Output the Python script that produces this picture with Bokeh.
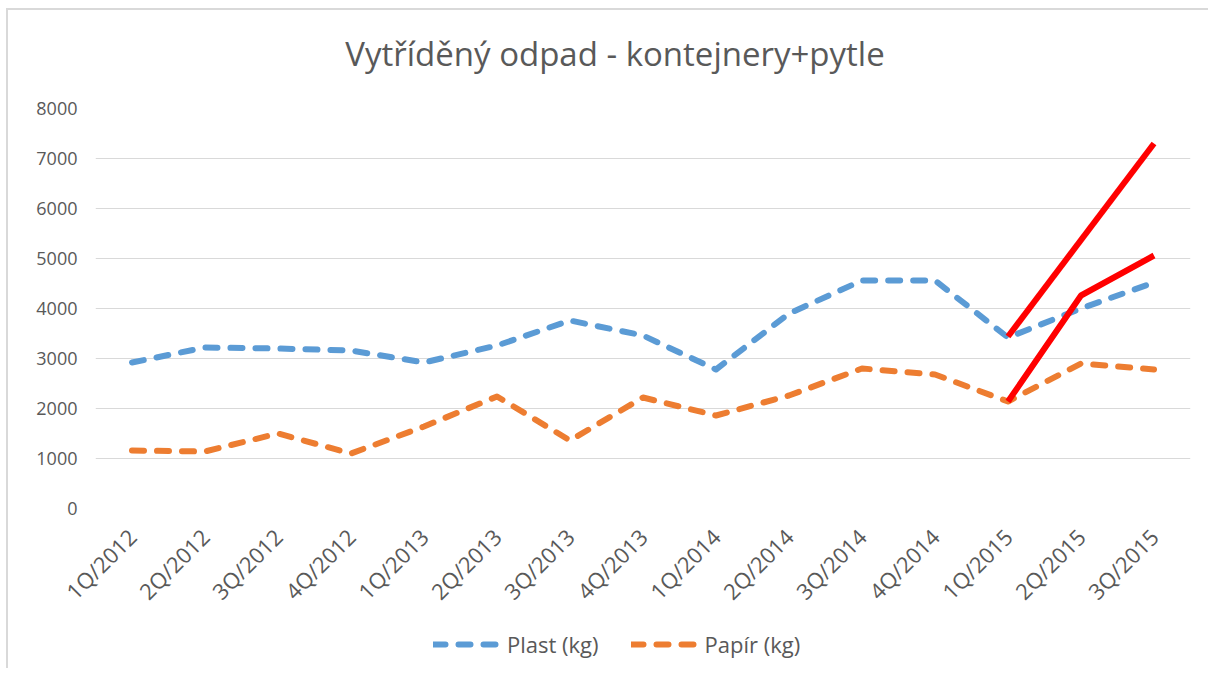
import numpy as np
from bokeh.plotting import figure
from bokeh.layouts import column
from bokeh.models import Range1d, FixedTicker, Legend, LegendItem, Label
from bokeh.embed import file_html
from bokeh.resources import INLINE

quarters = ["1Q/2012", "2Q/2012", "3Q/2012", "4Q/2012", "1Q/2013", "2Q/2013", "3Q/2013",
            "4Q/2013", "1Q/2014", "2Q/2014", "3Q/2014", "4Q/2014", "1Q/2015", "2Q/2015", "3Q/2015"]
plast = [2920, 3220, 3200, 3160, 2920, 3260, 3760, 3460, 2780, 3900, 4560, 4560, 3420, 4000, 4520]
papir = [1160, 1140, 1500, 1100, 1640, 2240, 1360, 2220, 1860, 2260, 2800, 2680, 2140, 2900, 2780]
# hand-drawn red overlay lines
red1_q = ["1Q/2015", "3Q/2015"]
red1_v = [3440, 7300]
red2_q = ["1Q/2015", "2Q/2015", "3Q/2015"]
red2_v = [2140, 4260, 5060]
series_names = ["Plast (kg)", "Papír (kg)"]
title_text = "Vytříděný odpad - kontejnery+pytle"

TEXT = "#595959"
FONT = "Open Sans"
BLUE, ORANGE = "#5B9BD5", "#ED7D31"
DASH = dict(line_width=6, line_dash="12 13", line_cap="round", line_join="round")
W = 1200


def strip(height):
    f = figure(width=W, height=height, output_backend="svg", toolbar_location=None,
               x_range=Range1d(0, 1), y_range=Range1d(0, 1), x_axis_type=None, y_axis_type=None,
               min_border_left=0, min_border_right=0, min_border_top=0, min_border_bottom=0)
    f.outline_line_color = None
    f.grid.visible = False
    return f


# title strip
pt = strip(86)
pt.add_layout(Label(x=0.5, y=0.5, x_offset=-28, text=title_text, text_align="center",
                    text_baseline="middle", text_font=FONT, text_font_size="33px",
                    text_color=TEXT))

# main chart
p = figure(width=W, height=522, output_backend="svg", toolbar_location=None, title=None,
           x_range=Range1d(-0.5, len(quarters) - 0.5), y_range=Range1d(0, 8000),
           min_border_left=87, min_border_right=18, min_border_top=12, min_border_bottom=110)
p.outline_line_color = None
p.xgrid.visible = False
p.ygrid.grid_line_color = "#d9d9d9"
p.ygrid.grid_line_width = 1
p.yaxis.ticker = FixedTicker(ticks=list(range(0, 8001, 1000)))
p.xaxis.ticker = FixedTicker(ticks=list(range(len(quarters))))
p.xaxis.major_label_overrides = {i: q for i, q in enumerate(quarters)}
p.xaxis.major_label_orientation = np.pi / 4
for ax in (p.xaxis, p.yaxis):
    ax.axis_line_color = None
    ax.major_tick_line_color = None
    ax.minor_tick_line_color = None
    ax.major_label_text_font = FONT
    ax.major_label_text_color = TEXT
p.xaxis.major_label_text_font_size = "22px"
p.yaxis.major_label_text_font_size = "18px"
p.yaxis.major_label_standoff = 12
p.xaxis.major_label_standoff = 18

xi = list(range(len(quarters)))
p.line(xi, plast, line_color=BLUE, **DASH)
p.line(xi, papir, line_color=ORANGE, **DASH)
p.line([quarters.index(q) for q in red1_q], red1_v, line_color="#FF0000", line_width=6)
p.line([quarters.index(q) for q in red2_q], red2_v, line_color="#FF0000", line_width=6)

# legend strip (its sample renderers sit outside the visible range)
pl = strip(50)
l1 = pl.line(x=[-5, -4], y=[-5, -5], line_color=BLUE, **DASH)
l2 = pl.line(x=[-5, -4], y=[-5, -5], line_color=ORANGE, **DASH)
legend = Legend(items=[LegendItem(label=series_names[0], renderers=[l1]),
                       LegendItem(label=series_names[1], renderers=[l2])],
                orientation="horizontal", location=(338, 9),
                glyph_width=66, glyph_height=20, spacing=32, label_standoff=8,
                padding=0, margin=0,
                label_text_font=FONT, label_text_font_size="22px", label_text_color=TEXT,
                border_line_color=None, background_fill_alpha=0)
pl.add_layout(legend, "center")

layout = column(pt, p, pl, spacing=0,
                styles={"border-left": "2px solid #d9d9d9", "border-top": "2px solid #d9d9d9",
                        "margin-left": "6px", "margin-top": "8px"})
open("out.html", "w").write(file_html(layout, INLINE))
